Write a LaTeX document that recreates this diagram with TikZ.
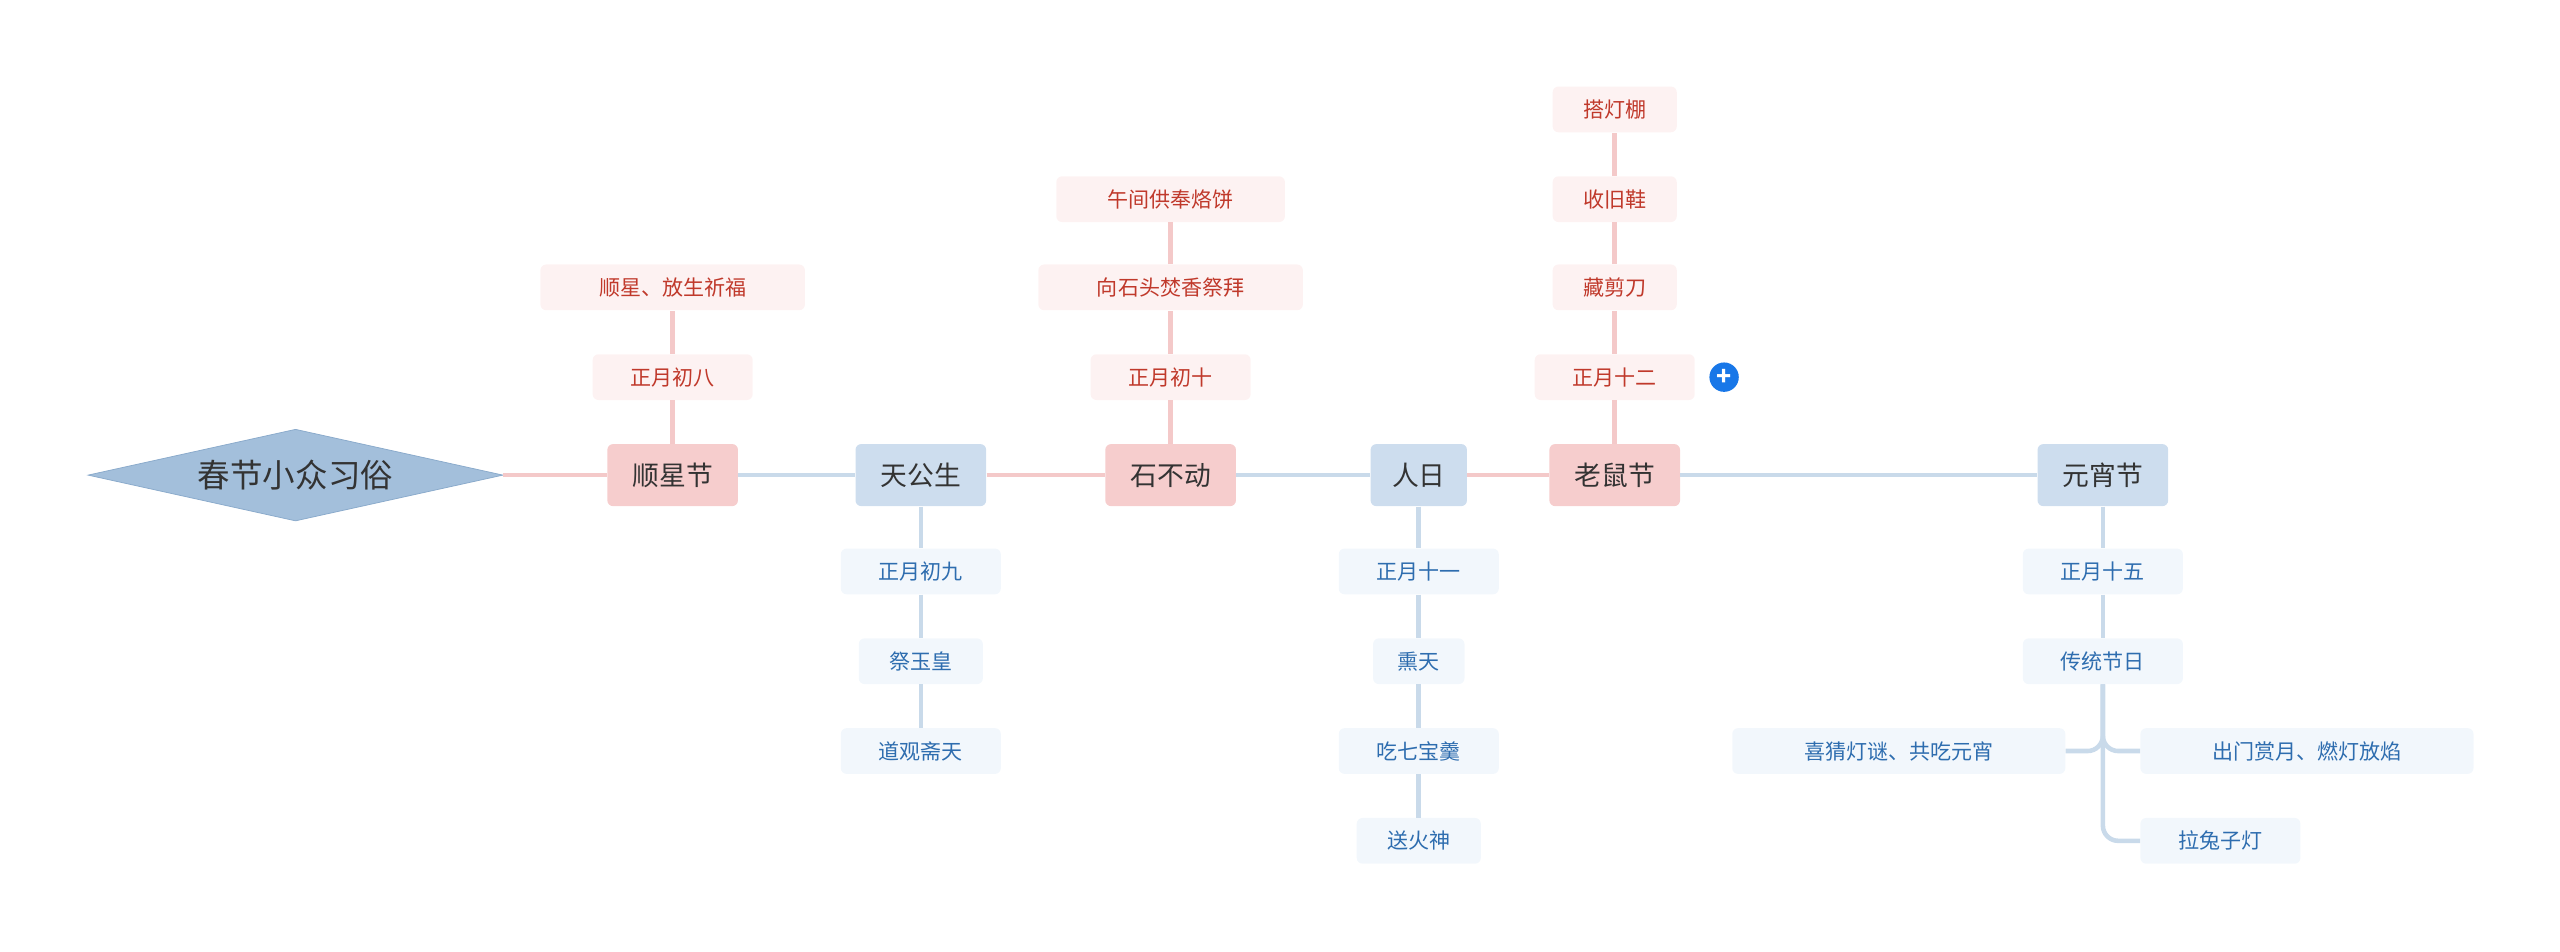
\documentclass[tikz,border=0pt]{standalone}
\usepackage{fontspec}
\setmainfont{Noto Sans CJK SC}
\usetikzlibrary{calc}
\definecolor{rootfill}{HTML}{A3BFDB}
\definecolor{rootline}{HTML}{8AAACB}
\definecolor{pinkmain}{HTML}{F6CDCD}
\definecolor{bluemain}{HTML}{CDDDEE}
\definecolor{pinkleaf}{HTML}{FDF2F2}
\definecolor{blueleaf}{HTML}{F2F7FC}
\definecolor{pinkline}{HTML}{F4C9C9}
\definecolor{blueline}{HTML}{C9DAEA}
\definecolor{pinktext}{HTML}{C0392B}
\definecolor{bluetext}{HTML}{2E6DAF}
\definecolor{plusblue}{HTML}{1877E8}
\tikzset{
  mainbox/.style={rounded corners=3pt, minimum height=1.14cm, inner sep=0pt, font=\fontsize{14}{16}\selectfont, text=black!80},
  pinkmainbox/.style={mainbox, fill=pinkmain},
  bluemainbox/.style={mainbox, fill=bluemain},
  leafbox/.style={rounded corners=3pt, minimum height=0.84cm, inner sep=0pt, font=\fontsize{11}{13}\selectfont},
  pinkbox/.style={leafbox, fill=pinkleaf, text=pinktext},
  bluebox/.style={leafbox, fill=blueleaf, text=bluetext},
  pinkedge/.style={draw=pinkline, line width=2.4pt},
  blueedge/.style={draw=blueline, line width=2.4pt},
}
\begin{document}
\begin{tikzpicture}[x=0.03cm, y=-0.03cm]
        \useasboundingbox (0,0) rectangle (1568,583);

        % root
        \coordinate (rl) at (54,291);
        \coordinate (rt) at (181,263);
        \coordinate (rr) at (308,291);
        \coordinate (rb) at (181,319);
        \draw[fill=rootfill, draw=rootline] (rl) -- (rt) -- (rr) -- (rb) -- cycle;

        % main nodes
        \node[pinkmainbox, minimum width=2.4cm] (sxj) at (412,291) {顺星节};
        \node[bluemainbox, minimum width=2.4cm] (tgs) at (564,291) {天公生};
        \node[pinkmainbox, minimum width=2.4cm] (sbd) at (717,291) {石不动};
        \node[bluemainbox, minimum width=1.77cm] (rr2) at (869,291) {人日};
        \node[pinkmainbox, minimum width=2.4cm] (lsj) at (989,291) {老鼠节};
        \node[bluemainbox, minimum width=2.4cm] (yxj) at (1288,291) {元宵节};

        \draw[pinkedge] (rr) -- (sxj.west);
        \draw[blueedge] (sxj.east) -- (tgs.west);
        \draw[pinkedge] (tgs.east) -- (sbd.west);
        \draw[blueedge] (sbd.east) -- (rr2.west);
        \draw[pinkedge] (rr2.east) -- (lsj.west);
        \draw[blueedge] (lsj.east) -- (yxj.west);
        \node[font=\fontsize{17}{20}\selectfont, text=black!80] (root) at (181,291) {春节小众习俗};

        % 顺星节
        \node[pinkbox, minimum width=2.94cm] (sx1) at (412,231) {正月初八};
        \node[pinkbox, minimum width=4.86cm] (sx2) at (412,176) {顺星、放生祈福};
        \draw[pinkedge] (sxj.north) -- (sx1.south);
        \draw[pinkedge] (sx1.north) -- (sx2.south);

        % 天公生
        \node[bluebox, minimum width=2.94cm] (tg1) at (564,350) {正月初九};
        \node[bluebox, minimum width=2.28cm] (tg2) at (564,405) {祭玉皇};
        \node[bluebox, minimum width=2.94cm] (tg3) at (564,460) {道观斋天};
        \draw[blueedge] (tgs.south) -- (tg1.north);
        \draw[blueedge] (tg1.south) -- (tg2.north);
        \draw[blueedge] (tg2.south) -- (tg3.north);

        % 石不动
        \node[pinkbox, minimum width=2.94cm] (sb1) at (717,231) {正月初十};
        \node[pinkbox, minimum width=4.86cm] (sb2) at (717,176) {向石头焚香祭拜};
        \node[pinkbox, minimum width=4.2cm] (sb3) at (717,122) {午间供奉烙饼};
        \draw[pinkedge] (sbd.north) -- (sb1.south);
        \draw[pinkedge] (sb1.north) -- (sb2.south);
        \draw[pinkedge] (sb2.north) -- (sb3.south);

        % 人日
        \node[bluebox, minimum width=2.94cm] (rr1) at (869,350) {正月十一};
        \node[bluebox, minimum width=1.68cm] (rrb) at (869,405) {熏天};
        \node[bluebox, minimum width=2.94cm] (rrc) at (869,460) {吃七宝羹};
        \node[bluebox, minimum width=2.28cm] (rrd) at (869,515) {送火神};
        \draw[blueedge] (rr2.south) -- (rr1.north);
        \draw[blueedge] (rr1.south) -- (rrb.north);
        \draw[blueedge] (rrb.south) -- (rrc.north);
        \draw[blueedge] (rrc.south) -- (rrd.north);

        % 老鼠节
        \node[pinkbox, minimum width=2.94cm] (ls1) at (989,231) {正月十二};
        \node[pinkbox, minimum width=2.28cm] (ls2) at (989,176) {藏剪刀};
        \node[pinkbox, minimum width=2.28cm] (ls3) at (989,122) {收旧鞋};
        \node[pinkbox, minimum width=2.28cm] (ls4) at (989,67) {搭灯棚};
        \draw[pinkedge] (lsj.north) -- (ls1.south);
        \draw[pinkedge] (ls1.north) -- (ls2.south);
        \draw[pinkedge] (ls2.north) -- (ls3.south);
        \draw[pinkedge] (ls3.north) -- (ls4.south);
        \node[circle, fill=plusblue, text=white, minimum size=0.54cm, inner sep=0pt, font=\bfseries\fontsize{13}{13}\selectfont] (plus) at (1056,231) {+};

        % 元宵节
        \node[bluebox, minimum width=2.94cm] (yx1) at (1288,350) {正月十五};
        \node[bluebox, minimum width=2.94cm] (yx2) at (1288,405) {传统节日};
        \node[bluebox, minimum width=6.12cm] (yxa) at (1163,460) {喜猜灯谜、共吃元宵};
        \node[bluebox, minimum width=6.12cm] (yxb) at (1413,460) {出门赏月、燃灯放焰};
        \node[bluebox, minimum width=2.94cm] (yxc) at (1360,515) {拉兔子灯};
        \draw[blueedge] (yxj.south) -- (yx1.north);
        \draw[blueedge] (yx1.south) -- (yx2.north);
        \draw[blueedge, rounded corners=8pt] (yx2.south) |- (yxa.east);
        \draw[blueedge, rounded corners=8pt] (yx2.south) |- (yxb.west);
        \draw[blueedge, rounded corners=8pt] (yx2.south) |- (yxc.west);
\end{tikzpicture}
\end{document}
